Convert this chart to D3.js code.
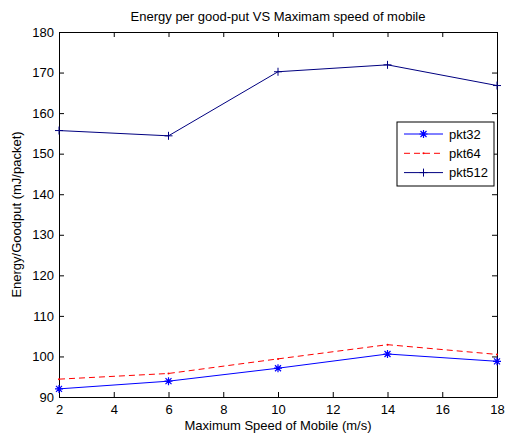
<!DOCTYPE html>
<html>
<head>
<meta charset="utf-8">
<script src="https://cdn.jsdelivr.net/npm/d3@7"></script>
<style>
  body { margin: 0; background: #fff; }
  text { font-family: "Liberation Sans", Arial, sans-serif; }
</style>
</head>
<body>
<script>
const speeds = [2, 6, 10, 14, 18]
const pkt32 = [92.0, 93.9, 97.1, 100.6, 98.8]
const pkt64 = [94.4, 95.8, 99.4, 102.9, 100.5]
const pkt512 = [155.7, 154.4, 170.2, 171.9, 166.8]
const xTicks = [2, 4, 6, 8, 10, 12, 14, 16, 18]
const yTicks = [90, 100, 110, 120, 130, 140, 150, 160, 170, 180]

const width = 505, height = 437
const margin = {top: 32, right: 8, bottom: 40, left: 59}
const fs = 13

const svg = d3.select("body").append("svg")
    .attr("width", width)
    .attr("height", height)

const x = d3.scaleLinear().domain([2, 18]).range([margin.left, width - margin.right])
const y = d3.scaleLinear().domain([90, 180]).range([height - margin.bottom, margin.top])

// axes, MATLAB style: ticks inside on every side
svg.append("g")
    .attr("transform", `translate(0,${y(90)})`)
    .call(d3.axisBottom(x).tickValues(xTicks).tickSize(-5).tickPadding(8).tickSizeOuter(0))
svg.append("g")
    .attr("transform", `translate(0,${y(180)})`)
    .call(d3.axisTop(x).tickValues(xTicks).tickSize(-5).tickFormat("").tickSizeOuter(0))
svg.append("g")
    .attr("transform", `translate(${x(2)},0)`)
    .call(d3.axisLeft(y).tickValues(yTicks).tickSize(-5).tickPadding(5).tickSizeOuter(0))
svg.append("g")
    .attr("transform", `translate(${x(18)},0)`)
    .call(d3.axisRight(y).tickValues(yTicks).tickSize(-5).tickFormat("").tickSizeOuter(0))

svg.selectAll(".tick text").attr("font-size", fs).attr("fill", "#000")
svg.selectAll(".domain").attr("stroke", "#000")

const line = d3.line().x((d, i) => x(speeds[i])).y(d => y(d))

const series = [
    {name: "pkt32", values: pkt32, color: "#0000ff", dash: null, marker: "star"},
    {name: "pkt64", values: pkt64, color: "#ff0000", dash: "6,4", marker: "dot"},
    {name: "pkt512", values: pkt512, color: "#000080", dash: null, marker: "plus"}
]

function drawMarker(g, kind, cx, cy, color) {
    if (kind == "plus") {
        g.append("path").attr("d", `M${cx - 4},${cy}H${cx + 4}M${cx},${cy - 4}V${cy + 4}`)
            .attr("stroke", color).attr("stroke-width", 1)
    } else if (kind == "star") {
        g.append("path").attr("d", `M${cx - 4},${cy}H${cx + 4}M${cx},${cy - 4}V${cy + 4}M${cx - 3},${cy - 3}L${cx + 3},${cy + 3}M${cx - 3},${cy + 3}L${cx + 3},${cy - 3}`)
            .attr("stroke", color).attr("stroke-width", 1.2)
    } else {
        g.append("circle").attr("cx", cx).attr("cy", cy).attr("r", 1).attr("fill", color)
    }
}

series.forEach(s => {
    const g = svg.append("g")
    g.append("path")
        .attr("d", line(s.values))
        .attr("fill", "none")
        .attr("stroke", s.color)
        .attr("stroke-width", 1)
        .attr("stroke-dasharray", s.dash)
    s.values.forEach((v, i) => drawMarker(g, s.marker, x(speeds[i]), y(v), s.color))
})

// legend
const legend = svg.append("g")
legend.append("rect")
    .attr("x", 397).attr("y", 122).attr("width", 97).attr("height", 64)
    .attr("fill", "#fff").attr("stroke", "#000")
series.forEach((s, i) => {
    const ly = 134 + i * 19.3
    legend.append("line")
        .attr("x1", 404).attr("x2", 443).attr("y1", ly).attr("y2", ly)
        .attr("stroke", s.color).attr("stroke-dasharray", s.dash)
    drawMarker(legend, s.marker, 423.5, ly, s.color)
    legend.append("text")
        .attr("x", 449).attr("y", ly + 4.5)
        .attr("font-size", fs)
        .text(s.name)
})

svg.append("text")
    .attr("x", (x(2) + x(18)) / 2).attr("y", 21)
    .attr("text-anchor", "middle").attr("font-size", fs)
    .text("Energy per good-put VS Maximam speed of mobile")

svg.append("text")
    .attr("x", (x(2) + x(18)) / 2).attr("y", 430)
    .attr("text-anchor", "middle").attr("font-size", fs)
    .text("Maximum Speed of Mobile (m/s)")

svg.append("text")
    .attr("transform", `translate(21,${(y(90) + y(180)) / 2}) rotate(-90)`)
    .attr("text-anchor", "middle").attr("font-size", fs)
    .text("Energy/Goodput (mJ/packet)")
</script>
</body>
</html>
